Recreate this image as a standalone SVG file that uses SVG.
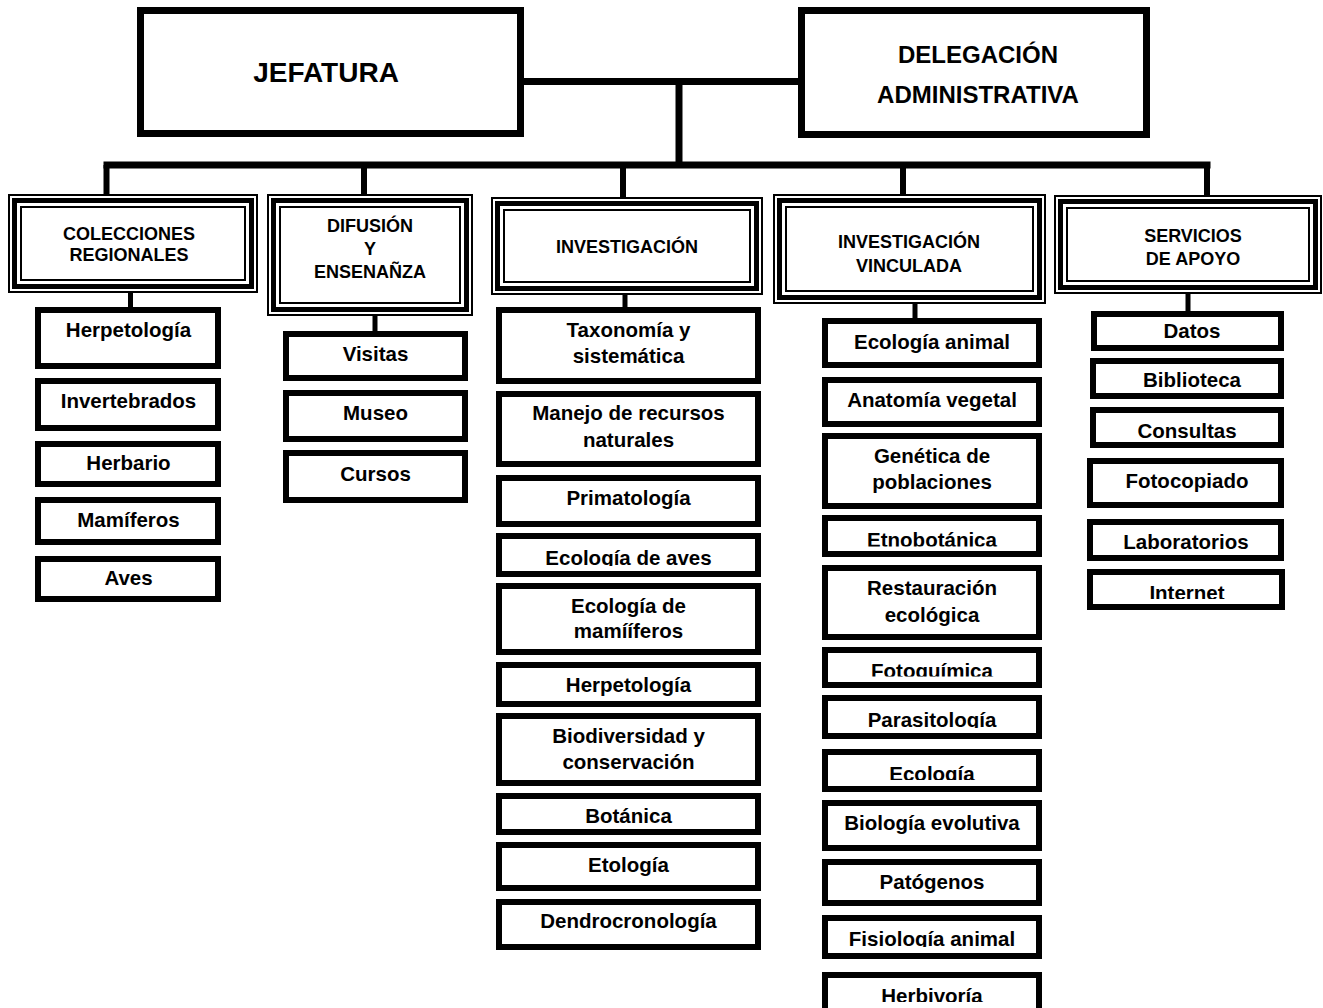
<svg xmlns="http://www.w3.org/2000/svg" width="1323" height="1008" viewBox="0 0 1323 1008">
<style>
.top{fill:#fff;stroke:#000;stroke-width:7}
.lf{fill:#fff;stroke:#000;stroke-width:6}
.o{fill:#fff;stroke:#000;stroke-width:2}
.m{fill:none;stroke:#000;stroke-width:5}
.i{fill:none;stroke:#000;stroke-width:2}
text{font-family:"Liberation Sans",Arial,sans-serif;font-weight:bold;fill:#000;text-anchor:middle}
.tl{font-size:20.5px}
.td{font-size:18px}
.c1{stroke:#000;stroke-width:7;fill:none}
.c2{stroke:#000;stroke-width:6;fill:none}
.c3{stroke:#000;stroke-width:5;fill:none}
</style>
<defs>
<clipPath id="k1"><rect x="0" y="536" width="1323" height="30"/></clipPath>
<clipPath id="k2"><rect x="0" y="518" width="1323" height="28.5"/></clipPath>
<clipPath id="k3"><rect x="0" y="650" width="1323" height="26.5"/></clipPath>
<clipPath id="k4"><rect x="0" y="698" width="1323" height="30"/></clipPath>
<clipPath id="k5"><rect x="0" y="752" width="1323" height="28"/></clipPath>
<clipPath id="k6"><rect x="0" y="918" width="1323" height="29"/></clipPath>
<clipPath id="k7"><rect x="0" y="975" width="1323" height="27"/></clipPath>
<clipPath id="k8"><rect x="0" y="572" width="1323" height="27"/></clipPath>
<clipPath id="k9"><rect x="0" y="410" width="1323" height="29.5"/></clipPath>
</defs>
<rect width="1323" height="1008" fill="#fff"/>

<g id="connectors">
<line class="c1" x1="524" y1="81.5" x2="798" y2="81.5"/>
<line class="c1" x1="679" y1="81.5" x2="679" y2="165"/>
<line class="c1" x1="103.5" y1="165" x2="1210.5" y2="165"/>
<line class="c2" x1="106.5" y1="165" x2="106.5" y2="195"/>
<line class="c2" x1="364" y1="165" x2="364" y2="195"/>
<line class="c2" x1="623" y1="165" x2="623" y2="198"/>
<line class="c2" x1="903" y1="165" x2="903" y2="195"/>
<line class="c2" x1="1207" y1="165" x2="1207" y2="196"/>
<line class="c3" x1="130.5" y1="292" x2="130.5" y2="308"/>
<line class="c3" x1="375" y1="315" x2="375" y2="332"/>
<line class="c3" x1="625" y1="294" x2="625" y2="308"/>
<line class="c3" x1="915" y1="303" x2="915" y2="319"/>
<line class="c3" x1="1188" y1="293" x2="1188" y2="312"/>
</g>

<g id="jefatura">
<rect class="top" x="140.5" y="10.5" width="380" height="123"/>
<text x="326" y="82" style="font-size:28px">JEFATURA</text>
</g>
<g id="delegacion">
<rect class="top" x="801.5" y="10.5" width="345" height="124"/>
<text x="978" y="63" style="font-size:24px">DELEGACIÓN</text>
<text x="978" y="103" style="font-size:24px">ADMINISTRATIVA</text>
</g>

<g id="colecciones">
<rect class="o" x="9" y="195" width="248" height="97"/>
<rect class="m" x="14.5" y="200.5" width="237" height="86"/>
<rect class="i" x="21" y="207" width="224" height="73"/>
<text class="td" x="129" y="240">COLECCIONES</text>
<text class="td" x="129" y="261">REGIONALES</text>
</g>
<g id="difusion">
<rect class="o" x="268" y="195" width="204" height="120"/>
<rect class="m" x="273.5" y="200.5" width="193" height="109"/>
<rect class="i" x="280" y="207" width="180" height="96"/>
<text class="td" x="370" y="232">DIFUSIÓN</text>
<text class="td" x="370" y="255">Y</text>
<text class="td" x="370" y="278">ENSENAÑZA</text>
</g>
<g id="investigacion">
<rect class="o" x="492" y="198" width="270" height="96"/>
<rect class="m" x="497.5" y="203.5" width="259" height="85"/>
<rect class="i" x="504" y="210" width="246" height="72"/>
<text class="td" x="627" y="253">INVESTIGACIÓN</text>
</g>
<g id="vinculada">
<rect class="o" x="774" y="195" width="271" height="108"/>
<rect class="m" x="779.5" y="200.5" width="260" height="97"/>
<rect class="i" x="786" y="207" width="247" height="84"/>
<text class="td" x="909" y="248">INVESTIGACIÓN</text>
<text class="td" x="909" y="272">VINCULADA</text>
</g>
<g id="servicios">
<rect class="o" x="1055" y="196" width="266" height="97"/>
<rect class="m" x="1060.5" y="201.5" width="255" height="86"/>
<rect class="i" x="1067" y="208" width="242" height="73"/>
<text class="td" x="1193" y="242">SERVICIOS</text>
<text class="td" x="1193" y="265">DE APOYO</text>
</g>

<g id="c-herpetologia"><rect class="lf" x="38" y="310" width="180" height="56"/><text class="tl" x="128.5" y="337">Herpetología</text></g>
<g id="c-invertebrados"><rect class="lf" x="38" y="381" width="180" height="47"/><text class="tl" x="128.5" y="408">Invertebrados</text></g>
<g id="c-herbario"><rect class="lf" x="38" y="444" width="180" height="40"/><text class="tl" x="128.5" y="470">Herbario</text></g>
<g id="c-mamiferos"><rect class="lf" x="38" y="500" width="180" height="42"/><text class="tl" x="128.5" y="527">Mamíferos</text></g>
<g id="c-aves"><rect class="lf" x="38" y="559" width="180" height="40"/><text class="tl" x="128.5" y="585">Aves</text></g>

<g id="d-visitas"><rect class="lf" x="286" y="334" width="179" height="44"/><text class="tl" x="375.5" y="361">Visitas</text></g>
<g id="d-museo"><rect class="lf" x="286" y="393" width="179" height="46"/><text class="tl" x="375.5" y="420">Museo</text></g>
<g id="d-cursos"><rect class="lf" x="286" y="453" width="179" height="47"/><text class="tl" x="375.5" y="481">Cursos</text></g>

<g id="i-taxonomia"><rect class="lf" x="499" y="310" width="259" height="71"/><text class="tl" x="628.5" y="337">Taxonomía y</text><text class="tl" x="628.5" y="363">sistemática</text></g>
<g id="i-manejo"><rect class="lf" x="499" y="394" width="259" height="70"/><text class="tl" x="628.5" y="420">Manejo de recursos</text><text class="tl" x="628.5" y="447">naturales</text></g>
<g id="i-primatologia"><rect class="lf" x="499" y="478" width="259" height="46"/><text class="tl" x="628.5" y="505">Primatología</text></g>
<g id="i-ecoaves"><rect class="lf" x="499" y="536" width="259" height="38"/><text class="tl" x="628.5" y="565" clip-path="url(#k1)">Ecología de aves</text></g>
<g id="i-ecomam"><rect class="lf" x="499" y="586" width="259" height="66"/><text class="tl" x="628.5" y="613">Ecología de</text><text class="tl" x="628.5" y="638">mamííferos</text></g>
<g id="i-herpetologia"><rect class="lf" x="499" y="665" width="259" height="39"/><text class="tl" x="628.5" y="692">Herpetología</text></g>
<g id="i-biodiversidad"><rect class="lf" x="499" y="716" width="259" height="67"/><text class="tl" x="628.5" y="743">Biodiversidad y</text><text class="tl" x="628.5" y="769">conservación</text></g>
<g id="i-botanica"><rect class="lf" x="499" y="796" width="259" height="36"/><text class="tl" x="628.5" y="823">Botánica</text></g>
<g id="i-etologia"><rect class="lf" x="499" y="845" width="259" height="43"/><text class="tl" x="628.5" y="872">Etología</text></g>
<g id="i-dendro"><rect class="lf" x="499" y="902" width="259" height="45"/><text class="tl" x="628.5" y="928">Dendrocronología</text></g>

<g id="v-ecoanimal"><rect class="lf" x="825" y="321" width="214" height="44"/><text class="tl" x="932" y="349">Ecología animal</text></g>
<g id="v-anatomia"><rect class="lf" x="825" y="380" width="214" height="44"/><text class="tl" x="932" y="407">Anatomía vegetal</text></g>
<g id="v-genetica"><rect class="lf" x="825" y="436" width="214" height="70"/><text class="tl" x="932" y="463">Genética de</text><text class="tl" x="932" y="489">poblaciones</text></g>
<g id="v-etnobotanica"><rect class="lf" x="825" y="518" width="214" height="36"/><text class="tl" x="932" y="547" clip-path="url(#k2)">Etnobotánica</text></g>
<g id="v-restauracion"><rect class="lf" x="825" y="568" width="214" height="69"/><text class="tl" x="932" y="595">Restauración</text><text class="tl" x="932" y="622">ecológica</text></g>
<g id="v-fotoquimica"><rect class="lf" x="825" y="650" width="214" height="35"/><text class="tl" x="932" y="678" clip-path="url(#k3)">Fotoquímica</text></g>
<g id="v-parasitologia"><rect class="lf" x="825" y="698" width="214" height="38"/><text class="tl" x="932" y="727" clip-path="url(#k4)">Parasitología</text></g>
<g id="v-ecologia"><rect class="lf" x="825" y="752" width="214" height="37"/><text class="tl" x="932" y="781" clip-path="url(#k5)">Ecología</text></g>
<g id="v-bioevol"><rect class="lf" x="825" y="803" width="214" height="45"/><text class="tl" x="932" y="830">Biología evolutiva</text></g>
<g id="v-patogenos"><rect class="lf" x="825" y="862" width="214" height="41"/><text class="tl" x="932" y="889">Patógenos</text></g>
<g id="v-fisiologia"><rect class="lf" x="825" y="918" width="214" height="38"/><text class="tl" x="932" y="946" clip-path="url(#k6)">Fisiología animal</text></g>
<g id="v-herbivoria"><rect class="lf" x="825" y="975" width="214" height="45"/><text class="tl" x="932" y="1003" clip-path="url(#k7)">Herbivoría</text></g>

<g id="s-datos"><rect class="lf" x="1094" y="314" width="187" height="34"/><text class="tl" x="1192" y="338">Datos</text></g>
<g id="s-biblioteca"><rect class="lf" x="1093" y="361" width="188" height="35"/><text class="tl" x="1192" y="387">Biblioteca</text></g>
<g id="s-consultas"><rect class="lf" x="1093" y="410" width="188" height="35"/><text class="tl" x="1187" y="438" clip-path="url(#k9)">Consultas</text></g>
<g id="s-fotocopiado"><rect class="lf" x="1090" y="461" width="191" height="44"/><text class="tl" x="1187" y="488">Fotocopiado</text></g>
<g id="s-laboratorios"><rect class="lf" x="1090" y="522" width="191" height="36"/><text class="tl" x="1186" y="549">Laboratorios</text></g>
<g id="s-internet"><rect class="lf" x="1090" y="572" width="192" height="35"/><text class="tl" x="1187" y="600" clip-path="url(#k8)">Internet</text></g>
</svg>
